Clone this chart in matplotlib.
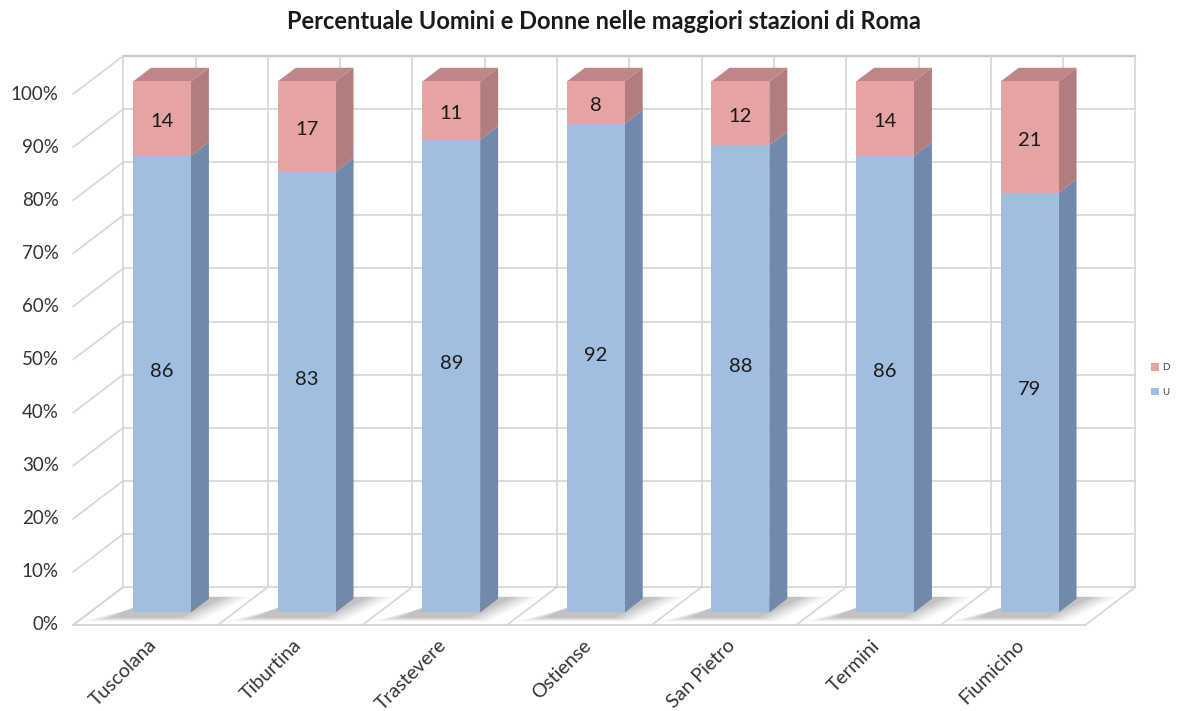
import numpy as np
import matplotlib.pyplot as plt
from matplotlib.patches import Polygon, Rectangle

plt.rcParams['font.family'] = ['Lato', 'DejaVu Sans']

stations = ['Tuscolana', 'Tiburtina', 'Trastevere', 'Ostiense', 'San Pietro', 'Termini', 'Fiumicino']
uomini = [86, 83, 89, 92, 88, 86, 79]
donne = [14, 17, 11, 8, 12, 14, 21]
yticks = list(range(0, 101, 10))

# colours: front, side, top
U_FRONT, U_SIDE = '#a1bde0', '#7189aa'
D_FRONT, D_SIDE, D_TOP = '#e5a3a3', '#b27d7d', '#bd8787'
GRID = '#d6d6d6'

# oblique 3d look: a depth step of 1 moves this far in data units
W, H = 1191, 711
CAT_PX, PCT_PX = 144.6, 5.31
DX, DY = 50 / CAT_PX, 38 / PCT_PX
F0, F1 = 0.33, 0.69      # bar front / back depth
HALF = 0.20              # half bar width

fig = plt.figure(figsize=(W / 100, H / 100), dpi=100)
ax = fig.add_axes([0, 0, 1, 1])
ax.set_xlim(-145.5 / CAT_PX, (W - 145.5) / CAT_PX)
ax.set_ylim(-86 / PCT_PX, (H - 86) / PCT_PX)
ax.axis('off')

n = len(stations)
left, right = -0.5, n - 0.5

# back wall
for k in yticks:
    ax.plot([left + DX, right + DX], [k + DY, k + DY], color='#c8c8c8' if k == 100 else GRID,
            lw=1.6 if k == 100 else 1.2, zorder=1)
    # side wall diagonals
    ax.plot([left, left + DX], [k, k + DY], color=GRID, lw=1.2, zorder=1)
for j in range(2 * n + 1):
    xb = left + 0.5 * j + DX
    ax.plot([xb, xb], [DY, 100 + DY], color=GRID, lw=1.2, zorder=1)

# floor
ax.plot([left, right], [0, 0], color=GRID, lw=1.4, zorder=1)
for b in np.arange(left, right + 0.01, 1.0):
    ax.plot([b, b + DX], [0, DY], color=GRID, lw=1.2, zorder=1)


def face(x0, x1, d0, d1, y0, y1):
    return [(x0 + d0 * DX, y0 + d0 * DY), (x1 + d1 * DX, y0 + d1 * DY),
            (x1 + d1 * DX, y1 + d1 * DY), (x0 + d0 * DX, y1 + d0 * DY)]


for i, (u, d) in enumerate(zip(uomini, donne)):
    xl, xr = i - HALF, i + HALF
    # soft shadow on the floor, stacked layers fake a blur
    for grow, a in [(0.16, 0.06), (0.12, 0.08), (0.08, 0.10), (0.04, 0.12), (0.0, 0.14)]:
        d0, d1 = F0 - 0.14 - grow * 0.6, F1 + 0.05
        pts = [(xl - 0.11 - grow + d0 * DX, d0 * DY),
               (xr - 0.02 + grow + d0 * DX, d0 * DY),
               (xr + 0.10 + grow + d1 * DX, d1 * DY),
               (xl + 0.02 + grow + d1 * DX, d1 * DY)]
        ax.add_patch(Polygon(pts, closed=True, fc='#707070', ec='none', alpha=a, zorder=2))

    segs = [(0, u, U_FRONT, U_SIDE), (u, u + d, D_FRONT, D_SIDE)]
    for y0, y1, fc, sc in segs:
        ax.add_patch(Polygon(face(xr, xr, F0, F1, y0, y1), closed=True, fc=sc, ec='none', zorder=3))
        ax.add_patch(Rectangle((xl + F0 * DX, y0 + F0 * DY), 2 * HALF, y1 - y0,
                               fc=fc, ec='none', zorder=4))
    top = u + d
    ax.add_patch(Polygon([(xl + F0 * DX, top + F0 * DY), (xr + F0 * DX, top + F0 * DY),
                          (xr + F1 * DX, top + F1 * DY), (xl + F1 * DX, top + F1 * DY)],
                         closed=True, fc=D_TOP, ec='none', zorder=3))

    cx = i + F0 * DX
    ax.text(cx, u / 2 + F0 * DY + 2.4, str(u), ha='center', va='center', fontsize=14.5,
            color='#1a1a1a', zorder=5)
    ax.text(cx, u + d / 2 + F0 * DY - 0.6, str(d), ha='center', va='center', fontsize=14.5,
            color='#1a1a1a', zorder=5)

    ax.text(i + 0.06, -3.3, stations[i], rotation=45, rotation_mode='anchor', ha='right',
            va='center', fontsize=14, color='#333333')

for k in yticks:
    ax.text(left - 0.1, k, f'{k}%', ha='right', va='center', fontsize=13.5, color='#333333')

ax.text(0.5 * (left + right + DX), 117.7 - 21 / PCT_PX,
        'Percentuale Uomini e Donne nelle maggiori stazioni di Roma',
        ha='center', va='center', fontsize=17, fontweight='bold', color='#1a1a1a')

handles = [Rectangle((0, 0), 1, 1, fc=D_FRONT, ec='none'),
           Rectangle((0, 0), 1, 1, fc=U_FRONT, ec='none')]
fig.legend(handles, ['D', 'U'], loc='center left', bbox_to_anchor=(1142 / W, 1 - 380 / H),
           frameon=False, fontsize=7, handlelength=0.8, handleheight=0.8,
           handletextpad=0.4, labelspacing=1.6, labelcolor='#444444')

fig.savefig('out.png', dpi=100)
